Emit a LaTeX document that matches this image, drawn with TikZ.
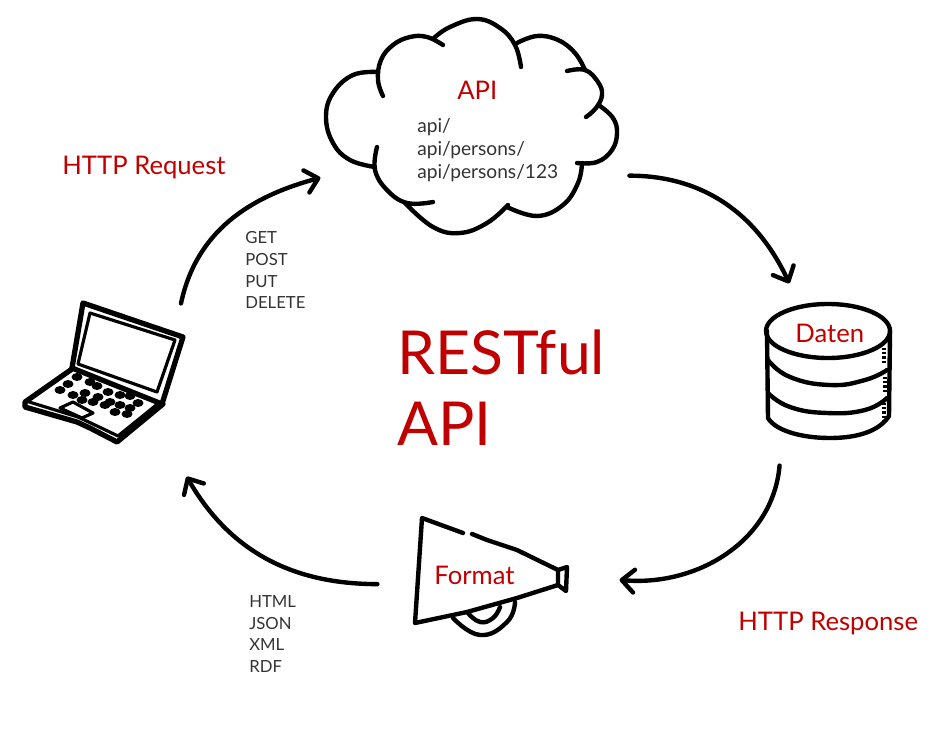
\documentclass[tikz,border=0pt]{standalone}
\usepackage{fontspec}
\setmainfont{Lato}
\usetikzlibrary{arrows.meta}
\definecolor{inkred}{HTML}{C00000}
\definecolor{inkgray}{HTML}{333333}
\tikzset{
	port/.style={inner sep=0pt,outer sep=0pt,minimum width=#1},
	flow/.style={-{Straight Barb[length=7pt,width=13pt,line width=2.5pt,round]},line width=2.5pt,line cap=round},
	ink/.style={line width=2.5pt,line cap=round,line join=round},
	inkthick/.style={line width=3pt,line cap=round,line join=round},
	inkthin/.style={line width=1.8pt,line cap=round,line join=round},
	grip/.style={line width=2.5pt,dash pattern=on 1.2pt off 1.2pt},
	title/.style={text=inkred,font=\fontsize{14.6}{18}\selectfont,anchor=west,inner sep=0pt},
	bigtitle/.style={title,font=\fontsize{34.5}{41}\selectfont},
	small/.style={text=inkgray,font=\fontsize{9.5}{12.4}\selectfont,align=left,anchor=north west,inner sep=0pt},
}
\begin{document}
\begin{tikzpicture}[x=0.02cm,y=-0.02cm]
	\useasboundingbox (0,0) rectangle (940,734);

	%%% Cloud
	\draw[ink] plot[smooth,tension=.7] coordinates {(378,72) (353,75) (333,93) (326,117) (333,143) (350,160) (375,167)};
	\draw[ink] plot[smooth,tension=.7] coordinates {(383,96) (378,80) (381,60) (393,45) (410,37) (427,37) (443,45)};
	\draw[ink] plot[smooth,tension=.7] coordinates {(434,38) (450,27) (477,19) (500,28) (515,45) (521,67)};
	\draw[ink] plot[smooth,tension=.7] coordinates {(517,43) (537,36) (558,40) (575,53) (585,70)};
	\draw[ink] plot[smooth,tension=.7] coordinates {(567,71) (585,70) (598,82) (602,95) (596,108) (586,117)};
	\draw[ink] plot[smooth,tension=.7] coordinates {(600,106) (613,118) (617,133) (612,150) (597,162) (577,163)};
	\draw[ink] plot[smooth,tension=.7] coordinates {(582,163) (578,183) (563,205) (537,216) (507,207)};
	\draw[ink] plot[smooth,tension=.7] coordinates {(508,205) (487,223) (460,233) (433,227) (405,203)};
	\draw[ink] plot[smooth,tension=.7] coordinates {(433,202) (407,203) (387,190) (375,170) (377,147)};

	%%% Laptop
	\draw[inkthick] (83,303) -- (183,337) -- (162,404) -- (72,368) -- cycle;
	\draw[inkthin] (90,313) -- (175,340) -- (157,392) -- (78,364) -- cycle;
	\draw[inkthick] (72,369) -- (25,402) -- (25,407) -- (77,422) -- (90,428) -- (117,442) -- (163,404);
	\draw[inkthin] (26,401) -- (78,417) -- (95,425) -- (118,436) -- (160,402);
	\draw[inkthin] (60,408) -- (73,402) -- (93,413) -- (82,418) -- cycle;
	\foreach \keyx/\keyy in {77/377,68/384,60/390,90/382,97/386,73/395,85/393,108/392,120/395,130/396,138/403,82/400,98/397,110/402,120/405,130/408,93/402,105/405,115/412,127/414}
		\fill (\keyx,\keyy) ellipse (5.5 and 4);

	%%% Database
	\draw[ink] (828,331) ellipse (62 and 27);
	\draw[ink] (767,331) -- (768,418) .. controls (775,430) and (800,438) .. (830,438) .. controls (860,438) and (880,430) .. (889,416) -- (890,331);
	\draw[ink] plot[smooth,tension=.8] coordinates {(768,360) (790,377) (830,385) (865,380) (887,370)};
	\draw[ink] plot[smooth,tension=.8] coordinates {(768,393) (790,407) (827,413) (865,410) (887,398)};
	\draw[grip] (884,348) -- (884,363);
	\draw[grip] (885,377) -- (885,392);
	\draw[grip] (884,403) -- (884,420);

	%%% Megaphone
	\draw[ink] (463,533) -- (422,518) -- (415,623) -- (467,612) -- (517,598) -- (558,585) -- (558,570) -- (517,550) -- (487,540) -- (472,534);
	\draw[ink] (558,570) -- (567,567) -- (566,591) -- (558,585);
	\draw[ink] plot[smooth,tension=.8] coordinates {(453,618) (480,635) (507,622) (515,602)};
	\draw[ink] plot[smooth,tension=.8] coordinates {(468,613) (480,622) (493,618) (500,607)};

	%%% Ports for the connectors
	\node[port=177.5pt,minimum height=60pt] (cloud) at (473.5,125) {};
	\node[port=96.4pt,minimum height=98.6pt] (laptop) at (103,390) {};
	\node[port=71.4pt,minimum height=103.7pt] (database) at (828,374.5) {};
	\node[port=137.8pt,minimum height=68pt] (megaphone) at (498.5,582) {};

	\node[bigtitle] (restful) at (397,352) {RESTful};
	\node[bigtitle] (restapi) at (397,424) {API};
	\node[title] (request) at (62,168) {HTTP Request};
	\node[title] (response) at (738,624) {HTTP Response};
	\node[title] (apilabel) at (457,90) {API};
	\node[title] (datenlabel) at (795,333) {Daten};
	\node[title] (formatlabel) at (434,575) {Format};

	\node[small,font=\fontsize{10.9}{13}\selectfont] (paths) at (417,118) {api/\\api/persons/\\api/persons/123};
	\node[small] (verbs) at (245,231) {GET\\POST\\PUT\\DELETE};
	\node[small] (formats) at (249,595) {HTML\\JSON\\XML\\RDF};

	\draw[flow] (laptop.48) to[out=78,in=195] (cloud.199);
	\draw[flow] (cloud.-18) to[out=0,in=115] (database.113);
	\draw[flow] (database.242) to[out=-95,in=-5] (megaphone.1);
	\draw[flow] (megaphone.181) to[out=180,in=-60] (laptop.-46);
\end{tikzpicture}
\end{document}
